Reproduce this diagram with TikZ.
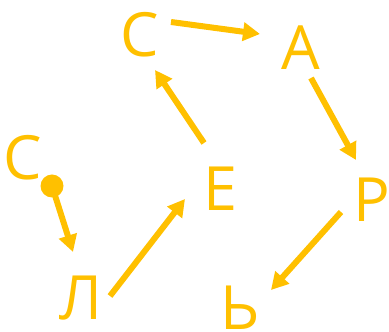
\documentclass[tikz,border=0pt]{standalone}
\usepackage{fontspec}
\setmainfont{Open Sans}
\usetikzlibrary{arrows.meta}
\definecolor{gold}{HTML}{FFC000}
\begin{document}
\begin{tikzpicture}[x=1pt,y=1pt,
  letter/.style={text=gold,font=\fontsize{61}{63}\selectfont,inner sep=0pt},
  conn/.style={draw=gold,line width=6pt,-{Triangle[length=17pt,width=18pt]}}]
\useasboundingbox (0,0) rectangle (389,332);
\node[letter] (c1) at (23,174) {С};
\node[letter] (c2) at (140,297) {С};
\node[letter] (a) at (301,284) {А};
\node[letter] (r) at (372,132) {Р};
\node[letter] (soft) at (240,24) {Ь};
\node[letter] (l) at (81,34) {Л};
\node[letter] (e) at (220,143) {Е};
\node[circle,fill=gold,minimum size=23pt,inner sep=0pt] (dot) at (52,146) {};
\coordinate (lt) at (73,80);
\coordinate (ls) at (110,36);
\coordinate (et) at (185,133);
\coordinate (es) at (204,189);
\coordinate (ct) at (155,262);
\coordinate (cs) at (171,310);
\coordinate (at) at (260,298);
\coordinate (as) at (311,254);
\coordinate (rt) at (356,172);
\coordinate (rs) at (341,120);
\coordinate (st) at (271,42);
\draw[conn] (dot.center) -- (lt);
\draw[conn] (ls) -- (et);
\draw[conn] (es) -- (ct);
\draw[conn] (cs) -- (at);
\draw[conn] (as) -- (rt);
\draw[conn] (rs) -- (st);
\end{tikzpicture}
\end{document}
